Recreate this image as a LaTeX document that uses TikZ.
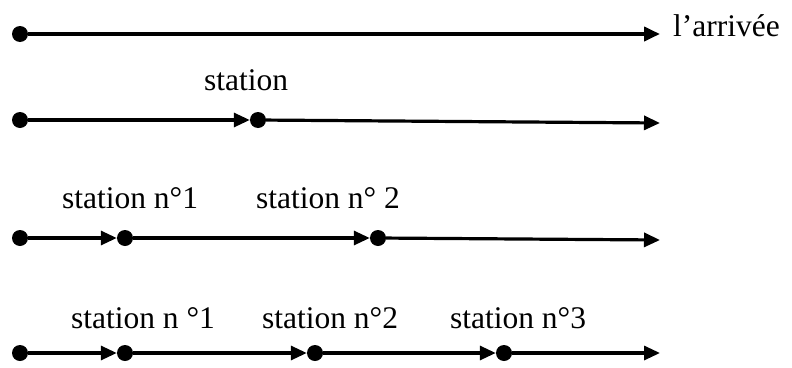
\documentclass[tikz,border=0pt]{standalone}
\usepackage{fontspec}
\setmainfont{Liberation Serif}
\usetikzlibrary{arrows.meta}
\tikzset{
  dot/.style={circle,fill=black,inner sep=0pt,minimum size=16pt},
  seg/.style={line width=3.2pt,-{Triangle[length=16pt,width=14pt]}},
  lbl/.style={anchor=base,inner sep=0pt,font=\fontsize{31.5}{33}\selectfont}
}
\begin{document}
\begin{tikzpicture}[x=1pt,y=-1pt]
\useasboundingbox (0,0) rectangle (792,367);
% row 1
\node[dot] (a0) at (20,34) {};
\coordinate (a1) at (660,34);
\draw[seg,line width=3.8pt] (a0) -- (a1);
\node[lbl,anchor=base west] (arr) at (673,36) {l’arrivée};
% row 2
\node[dot] (b0) at (20,120) {};
\node[dot] (b1) at (258,120) {};
\coordinate (b2) at (660,123);
\draw[seg] (b0) -- (b1);
\draw[seg] (b1) -- (b2);
\node[lbl] (lb1) at (246,90) {station};
% row 3
\node[dot] (c0) at (20,238) {};
\node[dot] (c1) at (125,238) {};
\node[dot] (c2) at (378,238) {};
\coordinate (c3) at (660,240);
\draw[seg] (c0) -- (c1);
\draw[seg] (c1) -- (c2);
\draw[seg] (c2) -- (c3);
\node[lbl] (lc1) at (130,208) {station n°1};
\node[lbl] (lc2) at (328,208) {station n° 2};
% row 4
\node[dot] (d0) at (20,353) {};
\node[dot] (d1) at (125,353) {};
\node[dot] (d2) at (315,353) {};
\node[dot] (d3) at (504,353) {};
\coordinate (d4) at (660,353);
\draw[seg] (d0) -- (d1);
\draw[seg] (d1) -- (d2);
\draw[seg] (d2) -- (d3);
\draw[seg] (d3) -- (d4);
\node[lbl] (ld1) at (143,328) {station n °1};
\node[lbl] (ld2) at (330,328) {station n°2};
\node[lbl] (ld3) at (518,328) {station n°3};
\end{tikzpicture}
\end{document}
